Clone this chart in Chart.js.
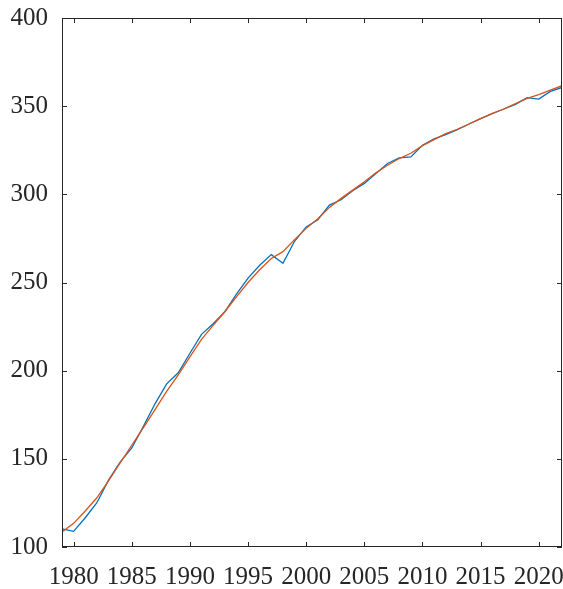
<!DOCTYPE html>
<html>
<head>
<meta charset="utf-8">
<script src="https://cdn.jsdelivr.net/npm/chart.js@4/dist/chart.umd.min.js"></script>
<style>
  html, body { margin: 0; padding: 0; background: #fff; }
  #wrap { width: 563px; height: 589px; }
</style>
</head>
<body>
<div id="wrap"><canvas id="c"></canvas></div>
<script>
// years 1979..2022
const years = [1979, 1980, 1981, 1982, 1983, 1984, 1985, 1986, 1987, 1988, 1989,
  1990, 1991, 1992, 1993, 1994, 1995, 1996, 1997, 1998, 1999,
  2000, 2001, 2002, 2003, 2004, 2005, 2006, 2007, 2008, 2009,
  2010, 2011, 2012, 2013, 2014, 2015, 2016, 2017, 2018, 2019,
  2020, 2021, 2022];

// observed (blue)
const actual = [110.3, 108.9, 116.6, 125.1, 137.9, 148.1, 156.2, 168.4, 181.2, 192.5, 198.8,
  209.9, 220.6, 226.6, 233.4, 243.4, 252.5, 259.8, 265.8, 260.9, 273.4,
  281.5, 285.6, 293.9, 296.9, 302.0, 306.2, 311.8, 317.5, 320.7, 321.2,
  327.8, 331.4, 333.9, 336.7, 339.9, 342.9, 345.7, 348.4, 351.0, 354.8,
  354.0, 358.4, 360.6];

// fitted (orange)
const fitted = [108.5, 113.4, 120.4, 127.9, 137.5, 147.7, 157.7, 167.7, 177.9, 188.2, 197.6,
  207.8, 217.8, 225.7, 233.4, 241.9, 250.0, 257.2, 263.6, 267.5, 274.3,
  280.7, 286.2, 292.6, 297.7, 302.4, 307.1, 312.2, 316.5, 320.3, 323.3,
  327.6, 331.0, 334.4, 336.9, 339.9, 342.9, 345.9, 348.4, 351.4, 354.4,
  356.5, 359.1, 361.6];

const xTicks = [1980, 1985, 1990, 1995, 2000, 2005, 2010, 2015, 2020];
const yTicks = [100, 150, 200, 250, 300, 350, 400];

const axisColor = '#262626';
const tickFont = { family: '"Liberation Serif", "Times New Roman", serif', size: 25 };

// MATLAB-like box with inward ticks
const boxTicks = {
  id: 'boxTicks',
  afterDraw(chart) {
    const { ctx, chartArea: a, scales: { x, y } } = chart;
    const len = 5;
    ctx.save();
    ctx.strokeStyle = axisColor;
    ctx.lineWidth = 1;
    ctx.beginPath();
    xTicks.forEach(v => {
      const px = Math.round(x.getPixelForValue(v)) + 0.5;
      ctx.moveTo(px, a.bottom); ctx.lineTo(px, a.bottom - len);
      ctx.moveTo(px, a.top); ctx.lineTo(px, a.top + len);
    });
    yTicks.forEach(v => {
      const py = Math.round(y.getPixelForValue(v)) + 0.5;
      ctx.moveTo(a.left, py); ctx.lineTo(a.left + len, py);
      ctx.moveTo(a.right, py); ctx.lineTo(a.right - len, py);
    });
    ctx.stroke();
    ctx.strokeRect(Math.round(a.left) + 0.5, Math.round(a.top) + 0.5,
      Math.round(a.right - a.left) - 1, Math.round(a.bottom - a.top) - 1);
    ctx.restore();
  }
};

new Chart(document.getElementById('c'), {
  type: 'line',
  data: {
    datasets: [
      {
        label: 'actual',
        data: years.map((yr, i) => ({ x: yr, y: actual[i] })),
        borderColor: '#0072BD',
        borderWidth: 1.3,
        pointRadius: 0,
        tension: 0,
        order: 2
      },
      {
        label: 'fitted',
        data: years.map((yr, i) => ({ x: yr, y: fitted[i] })),
        borderColor: '#D95319',
        borderWidth: 1.3,
        pointRadius: 0,
        tension: 0,
        order: 1
      }
    ]
  },
  options: {
    responsive: true,
    maintainAspectRatio: false,
    animation: false,
    layout: { padding: { top: 18, right: 1, left: 0, bottom: 0 } },
    plugins: { legend: { display: false }, tooltip: { enabled: false } },
    scales: {
      x: {
        type: 'linear',
        min: 1979,
        max: 2022,
        afterBuildTicks: s => { s.ticks = xTicks.map(v => ({ value: v })); },
        afterFit: s => { s.height = 42; s.paddingLeft = 0; s.paddingRight = 0; },
        grid: { display: false, drawTicks: false },
        border: { display: false },
        ticks: {
          color: axisColor,
          padding: 15,
          maxRotation: 0,
          autoSkip: false,
          font: tickFont,
          callback: v => String(v)
        }
      },
      y: {
        min: 100,
        max: 400,
        afterBuildTicks: s => { s.ticks = yTicks.map(v => ({ value: v })); },
        afterFit: s => { s.width = 62; s.paddingTop = 0; s.paddingBottom = 0; },
        grid: { display: false, drawTicks: false },
        border: { display: false },
        ticks: {
          color: axisColor,
          padding: 14,
          font: tickFont
        }
      }
    }
  },
  plugins: [boxTicks]
});
</script>
</body>
</html>
